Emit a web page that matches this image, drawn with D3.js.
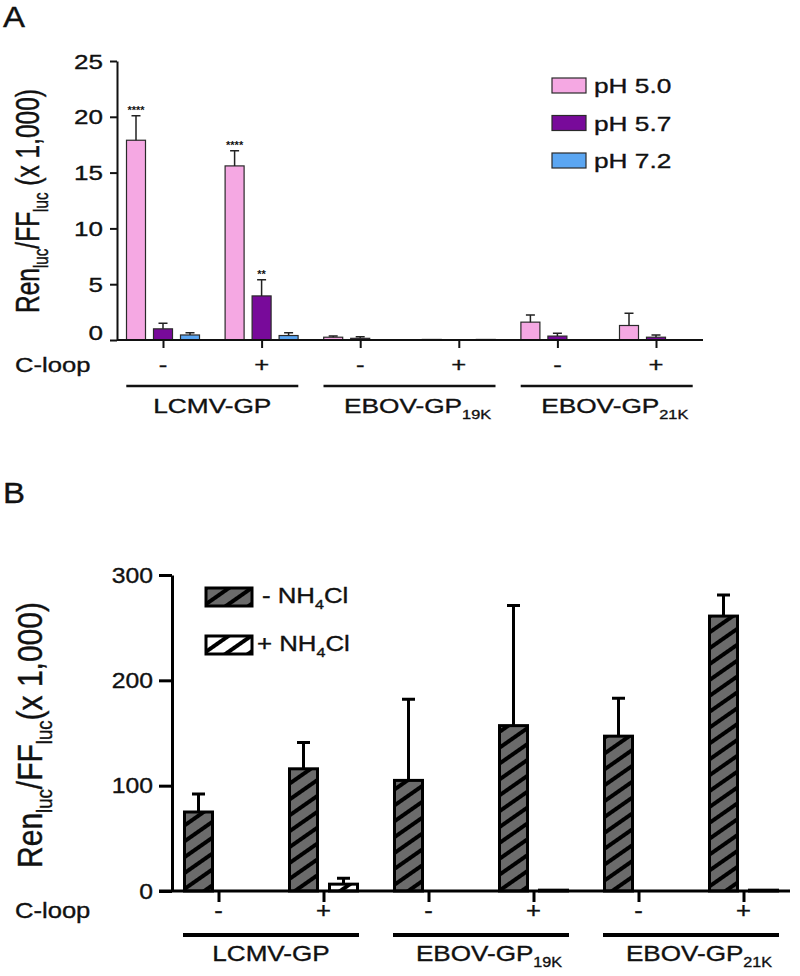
<!DOCTYPE html>
<html><head><meta charset="utf-8">
<script src="https://cdn.jsdelivr.net/npm/d3@7"></script>
<style>
body{margin:0;background:#fff}
svg{display:block}
text{font-family:"Liberation Sans",Arial,Helvetica,sans-serif;fill:#111;stroke:#111;stroke-width:0.35px}
</style>
</head><body><svg id="c" width="800" height="976"></svg>
<script>
// ---------- DATA ----------
const groupIds = ["g1","g2","g3","g4","g5","g6"];
const cloopLabels = ["-","+","-","+","-","+"];
const gpNames = ["LCMV-GP","EBOV-GP","EBOV-GP"];
const gpSubs = ["","19K","21K"];

// Panel A
const seriesA = ["pH 5.0","pH 5.7","pH 7.2"];
const colorsA = ["#f5a8e3","#780a9a","#5ba6f2"];
const pH50    = [17.9, 15.6, 0.25, 0.05, 1.6, 1.3];
const pH50Err = [2.2, 1.35, 0.1, 0, 0.65, 1.1];
const pH57    = [1.0, 3.95, 0.15, 0, 0.35, 0.25];
const pH57Err = [0.5, 1.45, 0.15, 0, 0.25, 0.2];
const pH72    = [0.45, 0.4, 0, 0.05, 0, 0];
const pH72Err = [0.2, 0.25, 0, 0, 0, 0];
const ticksA  = [0,5,10,15,20,25];
const starsA  = [{s:0,g:0,t:"****"},{s:0,g:1,t:"****"},{s:1,g:1,t:"**"}];

// Panel B
const seriesB = ["-","+"];           // - NH4Cl, + NH4Cl
const fillsB  = ["#6b6b6b","#ffffff"];
const minusNH4    = [75, 116, 105, 157, 147, 261];
const minusNH4Err = [17, 25, 77, 114, 36, 20];
const plusNH4     = [0, 6.5, 0, 0.8, 0, 0.8];
const plusNH4Err  = [0, 5.5, 0, 0, 0, 0];
const ticksB  = [0,100,200,300];

// ---------- HELPERS ----------
const svg = d3.select("#c");
function label(g, x, y, parts, o) {
  const tr = `translate(${x},${y})` + (o.rot ? ` rotate(${o.rot})` : "") + ` scale(${o.sx||1},${o.sy||1})`;
  const t = g.append("text").attr("transform", tr)
    .attr("font-size", o.size).attr("text-anchor", o.anchor || "start");
  if (o.weight) t.attr("font-weight", o.weight);
  if (o.noStroke) t.style("stroke", "none");
  let shifted = false;
  const arr = typeof parts === "string" ? [[parts]] : parts;
  arr.forEach(([s, isSub]) => {
    const ts = t.append("tspan").text(s);
    if (isSub) {
      ts.attr("font-size", o.size * 0.62);
      if (!shifted) { ts.attr("dy", o.size * 0.28); shifted = true; }
    } else if (shifted) { ts.attr("dy", -o.size * 0.28); shifted = false; }
  });
  return t;
}

// hatch patterns
const defs = svg.append("defs");
fillsB.forEach((bg, i) => {
  const p = defs.append("pattern").attr("id", "hatch" + i)
    .attr("patternUnits", "userSpaceOnUse").attr("width", 13).attr("height", 13)
    .attr("patternTransform", "rotate(-35)");
  p.append("rect").attr("width", 13).attr("height", 13).attr("fill", bg);
  p.append("rect").attr("width", 13).attr("height", 4).attr("fill", "#000");
});

// ---------- PANEL A ----------
const A = svg.append("g");
const yA = d3.scaleLinear([0, 25], [340, 61]);
const xA = d3.scalePoint(groupIds, [163, 656]);
const subA = d3.scaleBand(seriesA, [-40.5, 40.5]);
const bwA = 19;
const valsA = [pH50, pH57, pH72], errsA = [pH50Err, pH57Err, pH72Err];

label(A, 3, 27, "A", {size: 30, sx: 1.1});

// bars
seriesA.forEach((s, si) => {
  const data = groupIds.map((g, gi) => ({g, v: valsA[si][gi], e: errsA[si][gi]})).filter(d => d.v > 0);
  const cx = d => xA(d.g) + subA(s) + subA.bandwidth() / 2;
  A.selectAll(null).data(data).enter().append("rect")
    .attr("x", d => cx(d) - bwA / 2).attr("width", bwA)
    .attr("y", d => yA(d.v)).attr("height", d => yA(0) - yA(d.v))
    .attr("fill", colorsA[si]).attr("stroke", "#2a2a2a").attr("stroke-width", 1.2);
  const ed = data.filter(d => d.e > 0);
  A.selectAll(null).data(ed).enter().append("path")
    .attr("d", d => `M${cx(d)},${yA(d.v)}V${yA(d.v + d.e)}M${cx(d) - 4.5},${yA(d.v + d.e)}H${cx(d) + 4.5}`)
    .attr("stroke", "#222").attr("stroke-width", 1.5).attr("fill", "none");
});
// stars
starsA.forEach(st => {
  const gi = st.g, s = seriesA[st.s];
  const cx = xA(groupIds[gi]) + subA(s) + subA.bandwidth() / 2;
  label(A, cx, yA(valsA[st.s][gi] + errsA[st.s][gi]) - 2, st.t, {size: 11, anchor: "middle", weight: "bold", noStroke: true});
});

// y axis
A.append("g").attr("transform", `translate(117,0)`)
  .call(d3.axisLeft(yA).tickValues(ticksA).tickSize(7).tickSizeOuter(0).tickFormat(""))
  .call(g => g.selectAll("line,path").attr("stroke", "#111").attr("stroke-width", 2));
ticksA.forEach(t => label(A, 103, Math.min(yA(t), yA(0) - 8) + 7.5, String(t), {size: 21, sx: 1.24, anchor: "end"}));
// x axis
A.append("line").attr("x1", 117).attr("x2", 703).attr("y1", yA(0)).attr("y2", yA(0))
  .attr("stroke", "#111").attr("stroke-width", 2);
A.append("g").attr("transform", `translate(0,${yA(0)})`)
  .call(d3.axisBottom(xA).tickSize(8).tickSizeOuter(0).tickFormat(""))
  .call(g => g.select(".domain").remove())
  .call(g => g.selectAll("line").attr("stroke", "#111").attr("stroke-width", 2));

label(A, 15, 372, "C-loop", {size: 21, sx: 1.22});
groupIds.forEach((g, i) => label(A, xA(g), 372, cloopLabels[i], {size: 21, sx: 1.22, anchor: "middle"}));
gpNames.forEach((n, i) => {
  const c = (xA(groupIds[2 * i]) + xA(groupIds[2 * i + 1])) / 2;
  A.append("line").attr("x1", c - 86).attr("x2", c + 86).attr("y1", 386).attr("y2", 386)
    .attr("stroke", "#111").attr("stroke-width", 2.5);
  const parts = gpSubs[i] ? [[n], [gpSubs[i], true]] : [[n]];
  label(A, c + (gpSubs[i] ? 8 : 0), 413, parts, {size: 21, sx: 1.25, anchor: "middle"});
});

// legend A
seriesA.forEach((s, i) => {
  const by = 93 + i * 37.5;
  A.append("rect").attr("x", 552).attr("y", by - 15).attr("width", 34).attr("height", 15)
    .attr("fill", colorsA[i]).attr("stroke", "#2a2a2a").attr("stroke-width", 1.2);
  label(A, 594, by, s, {size: 21, sx: 1.25});
});

// y title A
label(A, 39, 201, [["Ren"], ["luc", true], ["/FF"], ["luc", true], [" (x 1,000)"]],
  {size: 24.5, rot: -90, sy: 1.35, anchor: "middle"});

// ---------- PANEL B ----------
const B = svg.append("g");
const yB = d3.scaleLinear([0, 300], [891, 575]);
const xB = d3.scalePoint(groupIds, [218.5, 743.5]);
const subB = d3.scaleBand(seriesB, [-40, 40]);
const bwB = 28;
const valsB = [minusNH4, plusNH4], errsB = [minusNH4Err, plusNH4Err];

label(B, 3, 503, "B", {size: 30, sx: 1.1});

seriesB.forEach((s, si) => {
  const data = groupIds.map((g, gi) => ({g, v: valsB[si][gi], e: errsB[si][gi]})).filter(d => d.v > 0);
  const cx = d => xB(d.g) + subB(s) + subB.bandwidth() / 2;
  B.selectAll(null).data(data).enter().append("rect")
    .attr("x", d => cx(d) - bwB / 2).attr("width", bwB)
    .attr("y", d => yB(d.v)).attr("height", d => yB(0) - yB(d.v))
    .attr("fill", `url(#hatch${si})`).attr("stroke", "#000").attr("stroke-width", 3);
  const ed = data.filter(d => d.e > 0);
  B.selectAll(null).data(ed).enter().append("path")
    .attr("d", d => `M${cx(d)},${yB(d.v)}V${yB(d.v + d.e)}M${cx(d) - 6.5},${yB(d.v + d.e)}H${cx(d) + 6.5}`)
    .attr("stroke", "#000").attr("stroke-width", 3).attr("fill", "none");
});

// y axis B
B.append("g").attr("transform", `translate(172,0)`)
  .call(d3.axisLeft(yB).tickValues(ticksB).tickSize(13).tickSizeOuter(0).tickFormat(""))
  .call(g => g.selectAll("line,path").attr("stroke", "#000").attr("stroke-width", 3));
ticksB.forEach(t => label(B, 153, yB(t) + 7.5, String(t), {size: 21.5, sx: 1.15, anchor: "end"}));
// x axis B
B.append("line").attr("x1", 159).attr("x2", 790).attr("y1", yB(0)).attr("y2", yB(0))
  .attr("stroke", "#000").attr("stroke-width", 3);
B.append("g").attr("transform", `translate(0,${yB(0)})`)
  .call(d3.axisBottom(xB).tickSize(11).tickSizeOuter(0).tickFormat(""))
  .call(g => g.select(".domain").remove())
  .call(g => g.selectAll("line").attr("stroke", "#000").attr("stroke-width", 3));

label(B, 15, 918, "C-loop", {size: 21.5, sx: 1.19});
groupIds.forEach((g, i) => label(B, xB(g), 918, cloopLabels[i], {size: 21.5, sx: 1.19, anchor: "middle"}));
gpNames.forEach((n, i) => {
  const c = (xB(groupIds[2 * i]) + xB(groupIds[2 * i + 1])) / 2;
  B.append("line").attr("x1", c - 88).attr("x2", c + 88).attr("y1", 935).attr("y2", 935)
    .attr("stroke", "#000").attr("stroke-width", 4);
  const parts = gpSubs[i] ? [[n], [gpSubs[i], true]] : [[n]];
  label(B, c + (gpSubs[i] ? 8 : 0), 961, parts, {size: 22.5, sx: 1.16, anchor: "middle"});
});

// legend B
seriesB.forEach((s, i) => {
  const top = 588 + i * 48;
  B.append("rect").attr("x", 206).attr("y", top).attr("width", 46).attr("height", 18)
    .attr("fill", `url(#hatch${i})`).attr("stroke", "#000").attr("stroke-width", 3);
  label(B, i === 0 ? 262 : 257, top + 15, [[s + " NH"], ["4", true], ["Cl"]], {size: 21.5, sx: 1.2});
});

// y title B
label(B, 42, 735, [["Ren"], ["luc", true], ["/FF"], ["luc", true], ["(x 1,000)"]],
  {size: 30, rot: -90, sy: 1.16, anchor: "middle"});
</script>
</body></html>
